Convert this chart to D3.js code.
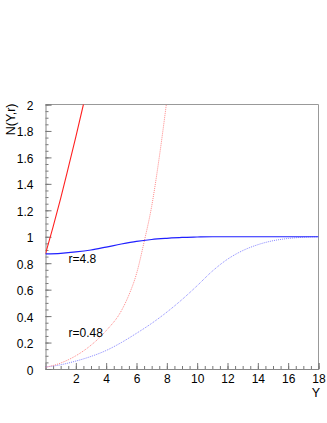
<!DOCTYPE html>
<html>
<head>
<meta charset="utf-8">
<script src="https://cdn.jsdelivr.net/npm/d3@7"></script>
<style>
  body { margin: 0; background: #fff; }
  svg { display: block; font-family: "Liberation Sans", Arial, sans-serif; }
</style>
</head>
<body>
<svg id="chart" width="327" height="423"></svg>
<script>
// values
const yLinearBig = [[0, 0.87], [0.5, 1.075], [1, 1.29], [1.5, 1.52], [2, 1.755], [2.5, 2.0], [2.6, 2.05]];
const yNonlinBig = [[0, 0.87], [1, 0.875], [2, 0.885], [3, 0.9], [4, 0.922], [5, 0.945], [6, 0.965],
  [7, 0.979], [8, 0.988], [9, 0.995], [10, 0.998], [11, 1.0], [12, 1.0], [14, 1.0], [16, 1.0], [18, 1.0]];
const yLinearSmall = [[0, 0.012], [1, 0.045], [2, 0.1], [3, 0.18], [4, 0.29], [5, 0.44], [5.5, 0.56],
  [6, 0.72], [6.5, 0.96], [7, 1.23], [7.5, 1.6], [8, 2.03]];
const yNonlinSmall = [[0, 0.015], [1, 0.032], [2, 0.06], [3, 0.095], [4, 0.14], [5, 0.2], [6, 0.27],
  [7, 0.345], [8, 0.43], [9, 0.525], [10, 0.63], [11, 0.74], [12, 0.83], [13, 0.895], [14, 0.94],
  [15, 0.97], [16, 0.987], [17, 0.996], [18, 1.0]];
const xTicks = [2, 4, 6, 8, 10, 12, 14, 16, 18];
const yTicks = [0, 0.2, 0.4, 0.6, 0.8, 1, 1.2, 1.4, 1.6, 1.8, 2];
const labels = [{text: "r=4.8", x: 1.52, y: 0.798}, {text: "r=0.48", x: 1.52, y: 0.242}];

const svg = d3.select("#chart");
const margin = {left: 45.5, right: 8.5, top: 104.5, bottom: 54};
const width = 327 - margin.left - margin.right;
const height = 423 - margin.top - margin.bottom;

const xScale = d3.scaleLinear().domain([0, 18]).range([0, width]);
const yScale = d3.scaleLinear().domain([0, 2]).range([height, 0]);

const g = svg.append("g").attr("transform", `translate(${margin.left},${margin.top})`);

g.append("clipPath").attr("id", "clip")
  .append("rect").attr("width", width).attr("height", height);

// frame top / right
g.append("path")
  .attr("d", `M0,0H${width}V${height}`)
  .attr("fill", "none")
  .attr("stroke", "#999");

// minor ticks
g.append("g")
  .attr("transform", `translate(0,${height})`)
  .call(d3.axisBottom(xScale).tickValues(d3.range(0, 18.01, 0.5)).tickSize(-3).tickFormat(""))
  .call(a => a.select(".domain").remove());
g.append("g")
  .call(d3.axisLeft(yScale).tickValues(d3.range(0, 2.001, 0.05)).tickSize(-3).tickFormat(""))
  .call(a => a.select(".domain").remove());

const xAxis = g.append("g")
  .attr("transform", `translate(0,${height})`)
  .call(d3.axisBottom(xScale).tickValues(xTicks).tickSize(-6).tickPadding(5).tickFormat(d3.format("d")));
const yAxis = g.append("g")
  .call(d3.axisLeft(yScale).tickValues(yTicks).tickSize(-6).tickPadding(12).tickFormat(d => d3.format("")(+d.toFixed(1))));

g.selectAll(".tick line").attr("stroke", "#777");
g.selectAll(".domain").attr("stroke", "#888");
g.selectAll(".tick text").attr("font-size", 12).attr("fill", "#000")
  .attr("font-family", "'Liberation Sans', Arial, sans-serif");
yAxis.selectAll(".tick text").attr("dy", "0.42em");

const line = d3.line()
  .x(d => xScale(d[0]))
  .y(d => yScale(d[1]))
  .curve(d3.curveMonotoneX);

const curves = g.append("g").attr("clip-path", "url(#clip)");
curves.append("path").datum(yNonlinSmall)
  .attr("d", line).attr("fill", "none")
  .attr("stroke", "#8888ff").attr("stroke-width", 1).attr("stroke-dasharray", "1,1");
curves.append("path").datum(yLinearSmall)
  .attr("d", line).attr("fill", "none")
  .attr("stroke", "#ff8888").attr("stroke-width", 1).attr("stroke-dasharray", "1,1");
curves.append("path").datum(yLinearBig)
  .attr("d", line).attr("fill", "none")
  .attr("stroke", "#ff2020").attr("stroke-width", 1.1);
curves.append("path").datum(yNonlinBig)
  .attr("d", line).attr("fill", "none")
  .attr("stroke", "#2020ff").attr("stroke-width", 1.2);

g.selectAll(".curve-label").data(labels).join("text")
  .attr("class", "curve-label")
  .attr("x", d => xScale(d.x))
  .attr("y", d => yScale(d.y))
  .attr("font-size", 12)
  .text(d => d.text);

// axis titles
svg.append("text")
  .attr("transform", `translate(15,${margin.top - 1}) rotate(-90)`)
  .attr("text-anchor", "end")
  .attr("font-size", 12.5)
  .text("N(Y,r)");
svg.append("text")
  .attr("x", 320)
  .attr("y", 397)
  .attr("text-anchor", "end")
  .attr("font-size", 12.5)
  .text("Y");
</script>
</body>
</html>
